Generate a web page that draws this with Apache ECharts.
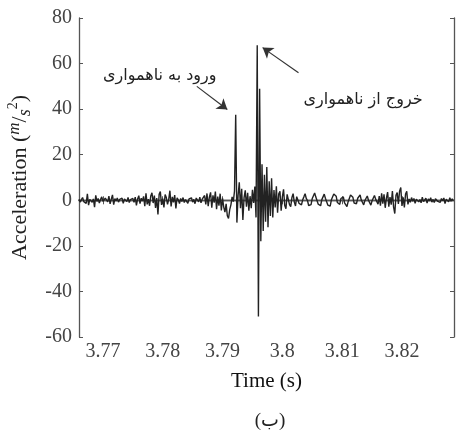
<!DOCTYPE html>
<html>
<head>
<meta charset="utf-8">
<script src="https://cdn.jsdelivr.net/npm/echarts@6/dist/echarts.min.js"></script>
<style>
  html, body { margin: 0; padding: 0; background: #fff; }
  #chart { width: 457px; height: 433px; }
</style>
</head>
<body>
<div id="chart"></div>
<script>
// sampling of the recorded signal
const t0 = 3.766;
const dt = 0.0002;

// acceleration samples (m/s^2)
const quietStart = [
  0.5, -0.8, 0.3, 1.2, -0.6, 0.2, -1.4, 2.8, -2.1, 0.4,
  1.1, -0.9, 0.6, -3.0, 2.2, -0.5, 0.8, -1.2, 0.3, 1.5,
  -0.4, -1.1, 0.9, 0.2, -0.7, 1.8, -1.6, 0.5, 2.4, -1.9,
  0.7, -0.3, 1.0, -0.8, 0.4, -0.2, 0.9, -1.3, 0.6, 0.1,
  -0.6, 1.3, -1.0, 0.3, -0.4, 0.8, -0.9, 1.4, -2.2, 0.6,
  2.0, -1.5, 0.9, -0.3, 1.7, -2.6, 3.1, -1.8, 0.5
];
const earlyBurst = [
  -2.4, 1.9, 3.3, -1.2, 2.1, -3.4, 1.0, -6.2, 2.6, 3.8,
  -2.0, 0.7, -3.1, 2.5, 1.2, -1.8, 0.4, 4.2, -2.7, 1.5,
  -0.9, 2.3, -3.6, 1.1, 0.2, -1.4
];
const quietMid = [
  0.8, -0.5, 1.2, -1.0, 0.3, 0.9, -1.3, 0.6, -0.2, 1.1,
  -0.8, 0.4, -1.5, 1.0, 0.2, -0.7, 1.4, -1.1, 0.5, -0.3
];
const approach = [
  2.1, -1.8, 3.0, -2.6, 1.4, 3.5, -3.2, 2.2, -1.0, 3.8,
  -3.9, 1.6, -2.4, 2.9, -4.5, 0.8, -3.0, -5.2, -1.6, -6.8,
  -8.0, -4.1, -2.0, 1.5, -0.6, 4.0
];
const entryPeak = [37.5];
const afterEntry = [
  -9.8, 2.1, 7.9, -3.5, 5.0, -8.6, 1.2, 4.4, -2.8, 3.3, -4.6,
  1.8, -3.5, 4.6, -1.2, 6.0, -7.5
];
const exitPeak = [68, -51, 49];
const afterExit = [
  -18, 15.8, -13.5, 11.2, -9.4, 14.6, -11.8, 8.3, -6.9, 9.7, -7.5,
  4.5, -3.2, 6.1, -5.5, 2.8, 3.9, -4.6, 1.5, 4.8, -2.3,
  -3.7, 2.6, 3.4, -1.9, -2.8, 1.2, 2.9, -0.8, -2.5, 1.6, 2.2
];
const decay = [
  -1.4, -1.8, -2.0, 0.2, 1.5, 2.9, 0.8, -0.1, -2.3, -2.1,
  -1.9, 0.8, 1.1, 3.2, 1.4, 0.9, -1.7, -2.0, -2.4, 0.3,
  0.6, 2.7, 0.9, 0.3, -2.1, -2.4, -2.6, 0.2, 0.4, 2.8,
  2.0, 1.8, -1.0, -1.2, -1.8, 0.8, 1.0, 1.5, -1.1, -1.4,
  -2.8, -0.6, 0.0, 2.3, 1.5, 1.3, -1.2, -1.0, -1.5, 0.9,
  0.8, 2.4, 0.1, -0.3, -2.0, -0.1, 0.2, 1.9, 0.0, -0.4,
  -2.1, -0.2, 0.1, 2.1, 0.5, 0.2, -1.7
];
const lateBurst = [
  1.8, -2.4, 3.1, -1.5, 2.6, -3.3, 0.9, 3.6, -2.8, 1.4,
  -1.9, 4.1, -3.0, -5.8, 2.2, 3.4, -1.6, 4.0, 5.6, -2.5,
  1.3, -3.1, 2.7, 3.9, -1.8, 0.6
];
const quietEnd = [
  -0.9, 1.2, -0.4, 0.8, -1.3, 0.5, 1.0, -0.7, 0.3, -1.1,
  1.4, -0.6, 0.2, 0.9, -1.2, 0.6, -0.3, 1.1, -0.8, 0.4,
  -1.0, 0.7, 1.3, -0.5, 0.1, -0.9, 0.8, -0.2, 1.0, -1.4,
  0.5, 0.3, -0.7, 1.1, -0.4, 0.6, -0.2
];

const xTicks = [3.77, 3.78, 3.79, 3.80, 3.81, 3.82];
const xRange = [3.766, 3.8287];
const yRange = [-60, 80];

// annotations: text anchor, then arrow tail and head, in data units
const entryText = 'ورود به ناهمواری';
const entryLabelAt = [3.7795, 54.5];
const entryArrow = [[3.7857, 50], [3.7908, 39.8]];
const exitText = 'خروج از ناهمواری';
const exitLabelAt = [3.8135, 44];
const exitArrow = [[3.8027, 56], [3.7967, 67]];

const accel = [].concat(quietStart, earlyBurst, quietMid, approach, entryPeak,
  afterEntry, exitPeak, afterExit, decay, lateBurst, quietEnd);
const seriesData = accel.map((v, i) => [t0 + i * dt, v]);

const serif = 'Liberation Serif';
const persian = 'DejaVu Sans';
const axisColor = '#555';

const chart = echarts.init(document.getElementById('chart'));

const option = {
  animation: false,
  backgroundColor: '#fff',
  grid: { left: 79, right: 3, top: 18, bottom: 96, outerBoundsMode: 'none' },
  xAxis: [{
    type: 'value',
    min: xRange[0],
    max: xRange[1],
    name: 'Time (s)',
    nameLocation: 'middle',
    nameGap: 34,
    nameTextStyle: { fontFamily: serif, fontSize: 21, color: '#111' },
    axisLine: { show: true, lineStyle: { color: axisColor, width: 1.3 } },
    axisTick: { show: true, inside: true, length: 4, customValues: xTicks, lineStyle: { color: axisColor } },
    axisLabel: {
      customValues: xTicks,
      margin: 5,
      fontFamily: serif, fontSize: 20, color: '#444',
      formatter: v => String(+(+v).toFixed(2))
    },
    splitLine: { show: false }
  }, {
    type: 'value',
    position: 'top',
    min: xRange[0],
    max: xRange[1],
    axisLine: { show: true, lineStyle: { color: axisColor, width: 1.3 } },
    axisTick: { show: true, inside: true, length: 4, customValues: xTicks, lineStyle: { color: axisColor } },
    axisLabel: { show: false },
    splitLine: { show: false }
  }],
  yAxis: [{
    type: 'value',
    min: yRange[0],
    max: yRange[1],
    interval: 20,
    name: 'Acceleration ({u|m}/{d|s}{p|2})',
    nameLocation: 'middle',
    nameGap: 44,
    nameTextStyle: {
      fontFamily: serif, fontSize: 22, color: '#222', lineHeight: 28,
      rich: {
        u: { fontFamily: serif, fontSize: 17, fontStyle: 'italic', color: '#222', verticalAlign: 'top', lineHeight: 28 },
        d: { fontFamily: serif, fontSize: 18, fontStyle: 'italic', color: '#222', verticalAlign: 'bottom', lineHeight: 28 },
        p: { fontFamily: serif, fontSize: 14, color: '#222', verticalAlign: 'top', lineHeight: 28 }
      }
    },
    axisLine: { show: true, lineStyle: { color: axisColor, width: 1.3 } },
    axisTick: { show: true, inside: true, length: 4, lineStyle: { color: axisColor } },
    axisLabel: { margin: 7, fontFamily: serif, fontSize: 20, color: '#444' },
    splitLine: { show: false }
  }, {
    type: 'value',
    position: 'right',
    min: yRange[0],
    max: yRange[1],
    interval: 20,
    axisLine: { show: true, lineStyle: { color: axisColor, width: 1.3 } },
    axisTick: { show: true, inside: true, length: 4, lineStyle: { color: axisColor } },
    axisLabel: { show: false },
    splitLine: { show: false }
  }],
  series: [{
    type: 'line',
    xAxisIndex: 0,
    yAxisIndex: 0,
    data: seriesData,
    showSymbol: false,
    lineStyle: { color: '#222', width: 1.4 },
    markPoint: {
      silent: true,
      symbol: 'circle',
      symbolSize: 1,
      itemStyle: { color: 'rgba(0,0,0,0)' },
      label: {
        show: true,
        position: 'inside',
        fontFamily: persian,
        fontSize: 16,
        color: '#222',
        formatter: p => p.name
      },
      data: [
        { name: entryText, coord: entryLabelAt },
        { name: exitText, coord: exitLabelAt }
      ]
    },
    markLine: {
      silent: true,
      animation: false,
      symbolSize: 10,
      label: { show: false },
      lineStyle: { color: '#333', width: 1.2, type: 'solid' },
      data: [
        [{ coord: entryArrow[0], symbol: 'none' }, { coord: entryArrow[1], symbol: 'arrow' }],
        [{ coord: exitArrow[0], symbol: 'none' }, { coord: exitArrow[1], symbol: 'arrow' }]
      ]
    }
  }],
  graphic: [{
    type: 'text',
    x: 270,
    y: 421,
    style: {
      text: '(ب)',
      align: 'center',
      verticalAlign: 'middle',
      fontFamily: serif + ', ' + persian,
      fontSize: 19,
      fill: '#222'
    }
  }]
};

chart.setOption(option);

window.addEventListener('resize', function () {
  chart.resize();
});
</script>
</body>
</html>
